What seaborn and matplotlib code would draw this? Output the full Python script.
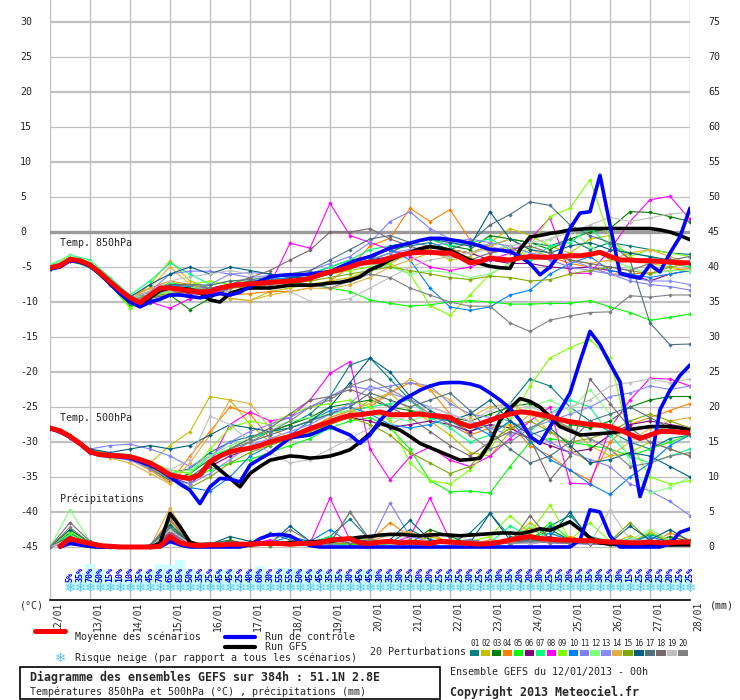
import numpy as np
import matplotlib
matplotlib.use("Agg")
import matplotlib.pyplot as plt
from matplotlib.lines import Line2D
from matplotlib.patches import Rectangle
import seaborn as sns

# time axes (hours from 12/01 00h)
hours_6h = np.arange(0, 385, 6)
hours_12h = np.arange(0, 385, 12)
snow_hours = np.arange(12, 385, 6)
day_labels = ["%02d/01" % d for d in range(12, 29)]

# ensemble mean / control / GFS run, 6-hourly
mean_850 = [-5.1, -4.8, -3.9, -4.1, -4.7, -5.8, -7.1, -8.3, -9.4, -10.1,
            -9.0, -8.0, -8.0, -8.2, -8.4, -8.6, -8.5, -8.0, -7.7, -7.5,
            -7.4, -7.3, -7.2, -7.1, -7.0, -6.9, -6.6, -6.1, -5.7, -5.4,
            -5.0, -4.5, -4.3, -4.2, -3.7, -3.3, -3.0, -2.9, -2.9, -3.0,
            -3.0, -3.6, -4.4, -4.2, -3.7, -3.9, -4.0, -3.7, -3.5, -3.6,
            -3.6, -3.5, -3.4, -3.4, -3.2, -2.9, -3.5, -4.0, -4.0, -4.1,
            -4.1, -4.2, -4.3, -4.4, -4.4]
control_850 = [-5.3, -5.0, -4.1, -4.3, -4.9, -6.0, -7.4, -8.8, -10.0, -10.7,
               -10.0, -9.6, -9.0, -9.0, -9.2, -9.4, -9.1, -8.8, -9.0, -8.6,
               -7.8, -7.0, -6.4, -6.2, -6.1, -6.1, -6.0, -5.8, -5.7, -5.0,
               -4.4, -3.9, -3.5, -2.9, -2.3, -1.9, -1.6, -1.2, -0.9, -0.9,
               -1.1, -1.3, -1.6, -2.0, -2.5, -2.6, -2.8, -3.5, -4.5, -6.1,
               -5.0, -3.1, 0.5, 2.7, 2.9, 8.1, 1.0, -5.9, -6.3, -6.6,
               -4.7, -5.7, -3.0, -0.7, 3.4]
gfs_850 = [-5.2, -4.9, -4.0, -4.2, -4.8, -6.0, -7.3, -8.6, -9.8, -10.3,
           -9.4, -8.4, -8.0, -8.1, -8.2, -8.7, -9.7, -10.0, -8.8, -8.3,
           -8.0, -8.0, -8.0, -7.8, -7.6, -7.6, -7.6, -7.5, -7.3, -7.2,
           -6.9, -6.4, -5.4, -4.8, -4.0, -3.4, -2.9, -2.4, -2.1, -2.3,
           -2.6, -3.3, -4.0, -4.5, -4.9, -5.1, -5.2, -2.5, -0.7, -0.5,
           -0.2, 0.0, 0.3, 0.4, 0.5, 0.5, 0.5, 0.5, 0.5, 0.5,
           0.5, 0.3, 0.0, -0.5, -1.1]
mean_500 = [-28.0, -28.4, -29.2, -30.2, -31.4, -31.8, -31.9, -32.0, -32.1, -32.5,
            -33.0, -33.8, -34.7, -35.0, -35.2, -34.7, -32.8, -32.0, -31.4, -31.1,
            -30.9, -30.5, -30.0, -29.6, -29.2, -28.7, -28.1, -27.6, -27.1, -26.6,
            -26.2, -26.1, -25.9, -25.7, -26.1, -26.1, -26.1, -26.0, -26.2, -26.3,
            -26.5, -27.3, -27.8, -27.4, -26.9, -26.4, -26.0, -25.7, -25.8, -26.1,
            -26.4, -26.8, -27.1, -27.3, -27.5, -27.6, -27.8, -28.3, -28.9, -29.5,
            -29.0, -28.5, -28.5, -28.6, -28.7]
control_500 = [-28.1, -28.5, -29.3, -30.3, -31.5, -31.9, -32.0, -32.1, -32.3, -32.8,
               -33.3, -34.0, -35.0, -36.0, -36.9, -38.8, -36.4, -35.2, -35.3, -35.7,
               -33.3, -32.4, -31.6, -30.5, -29.4, -29.2, -29.0, -28.4, -27.8, -28.4,
               -29.0, -30.2, -29.0, -26.9, -25.5, -24.2, -23.4, -22.6, -22.0, -21.6,
               -21.5, -21.5, -21.7, -22.1, -23.0, -24.0, -25.2, -26.9, -29.2, -30.2,
               -27.8, -25.5, -23.0, -18.5, -14.2, -16.1, -18.8, -21.4, -29.7, -37.8,
               -33.5, -25.4, -22.6, -20.5, -19.0]
gfs_500 = [-28.0, -28.4, -29.2, -30.2, -31.4, -31.8, -31.9, -32.0, -32.1, -32.5,
           -33.0, -33.8, -34.7, -35.0, -35.2, -34.7, -32.8, -34.0, -35.2, -36.4,
           -34.5, -33.5, -32.6, -32.3, -32.0, -32.1, -32.3, -32.2, -32.0, -31.6,
           -31.1, -30.0, -28.8, -27.3, -27.8, -28.3, -29.2, -30.2, -30.8, -31.4,
           -32.0, -32.6, -32.5, -32.3, -30.2, -26.9, -25.2, -23.8, -24.2, -25.0,
           -26.4, -27.8, -28.4, -29.0, -28.9, -28.8, -28.7, -28.5, -28.2, -28.0,
           -27.8, -27.8, -27.8, -28.0, -28.3]
mean_pcp = [0, 0.1, 1.2, 0.8, 0.5, 0.2, 0.1, 0, 0, 0,
            0, 0.1, 1.5, 0.6, 0.3, 0.2, 0.3, 0.3, 0.4, 0.4,
            0.4, 0.5, 0.5, 0.5, 0.4, 0.5, 0.5, 0.6, 1.0, 1.1,
            1.2, 0.6, 0.5, 0.7, 0.8, 0.6, 0.7, 0.6, 0.5, 0.8,
            0.7, 0.6, 0.5, 0.4, 0.5, 0.7, 1.0, 1.3, 1.5, 1.2,
            1.1, 1.0, 1.0, 0.9, 0.9, 0.8, 0.7, 0.7, 0.6, 0.6,
            0.7, 0.6, 0.6, 0.7, 0.7]
control_pcp = [0, 0, 0.5, 0.3, 0.1, 0, 0, 0, 0, 0,
               0, 0, 0.8, 0.3, 0, 0, 0, 0, 0, 0,
               0.3, 1.2, 1.7, 1.8, 1.6, 0.8, 0.2, 0, 0, 0,
               0, 0, 0, 0, 0, 0, 0, 0, 0, 0,
               0, 0, 0, 0, 0, 0, 0, 0, 0, 0,
               0, 0, 0, 1.0, 5.3, 5.0, 1.6, 0, 0, 0,
               0, 0, 0.5, 2.1, 2.6]
gfs_pcp = [0, 0, 0.8, 0.4, 0.1, 0, 0, 0, 0, 0,
           0, 0.5, 4.8, 2.9, 0.7, 0.2, 0.1, 0.1, 0.2, 0.3,
           0.3, 0.4, 0.5, 0.5, 0.6, 0.6, 0.7, 0.8, 0.8, 1.0,
           1.2, 1.4, 1.5, 1.7, 1.8, 1.8, 1.7, 1.6, 1.7, 1.8,
           1.7, 1.6, 1.7, 1.8, 1.9, 2.0, 2.0, 1.9, 2.2, 2.6,
           2.4, 3.0, 3.6, 2.5, 1.3, 0.6, 0.4, 0.3, 0.3, 0.3,
           0.3, 0.3, 0.3, 0.3, 0.3]

# snow risk (% of scenarios), 6-hourly from +12h
snow_pct = [5, 35, 70, 50, 15, 10, 10, 35, 45, 70, 65, 85, 50, 35, 25, 45, 45, 25, 40, 60,
            30, 55, 55, 50, 45, 45, 35, 35, 30, 45, 45, 30, 35, 30, 25, 20, 20, 25, 35, 25,
            30, 25, 35, 30, 35, 20, 20, 30, 25, 35, 20, 35, 35, 30, 25, 30, 15, 25, 20, 25,
            20, 25, 25]

# 20 perturbations, 12-hourly: T850, T500, precipitation
m01_t850 = [-5.3, -3.8, -4.5, -7.0, -9.6, -8.5, -7.5, -8.0, -8.3, -7.6, -7.0, -6.8, -6.6, -6.0, -5.0, -4.0, -3.5,
            -2.5, -2.0, -1.5, -2.5, -3.0, -2.0, -1.0, -1.5, -2.0, -1.0, -2.5, -1.5, -2.0, -2.5, -3.0, -3.2]
m02_t850 = [-5.0, -4.0, -4.6, -7.2, -9.8, -7.5, -4.1, -7.0, -8.0, -9.5, -9.8, -8.5, -8.0, -7.5, -7.0, -6.5, -5.5,
            -4.5, -3.0, -2.5, -4.0, -3.5, -1.5, 0.5, -0.5, -2.0, -3.0, -1.0, -0.5, -4.0, -4.5, -5.0, -5.6]
m03_t850 = [-5.2, -4.1, -4.9, -7.4, -10.5, -10.2, -9.0, -11.1, -9.5, -8.0, -7.5, -7.2, -7.0, -6.8, -6.0, -5.0, -4.0,
            -3.0, -1.5, -1.0, -2.0, -2.5, -0.5, -1.0, -1.5, -2.5, -1.0, 0.0, 0.5, 2.9, 2.8, 2.2, 1.5]
m04_t850 = [-5.1, -3.7, -4.4, -6.9, -9.2, -8.0, -7.0, -7.5, -8.5, -9.0, -8.8, -8.5, -8.5, -8.0, -7.0, -5.0, -2.0,
            -0.9, 3.4, 1.5, 3.2, -1.1, -3.0, -2.0, -4.0, -3.5, -4.5, -5.0, -6.0, -6.0, -5.8, -5.5, -5.2]
m05_t850 = [-5.4, -4.2, -5.0, -7.6, -10.8, -8.8, -7.2, -7.8, -8.6, -7.5, -7.3, -7.0, -7.2, -7.5, -8.0, -8.5, -9.7,
            -10.2, -10.6, -10.4, -10.0, -9.8, -10.0, -10.3, -10.3, -10.2, -10.2, -9.8, -10.7, -11.5, -12.6, -12.2, -11.7]
m06_t850 = [-5.0, -3.9, -4.6, -7.0, -9.3, -9.0, -8.5, -8.8, -9.0, -8.0, -7.5, -7.2, -6.8, -6.5, -5.5, -4.8, -4.0,
            -3.5, -3.2, -3.0, -2.5, -3.0, -4.0, -4.5, -4.5, -5.0, -5.2, -5.0, -5.5, -6.0, -7.0, -6.0, -5.5]
m07_t850 = [-4.8, -3.3, -4.0, -6.5, -9.0, -7.0, -4.4, -6.0, -7.5, -7.0, -6.8, -6.5, -6.3, -6.0, -5.0, -4.0, -2.5,
            -2.0, -1.5, -1.0, -2.0, -1.5, -1.0, -2.5, -4.0, -2.0, -1.5, 0.5, -2.0, -3.0, -3.5, -4.5, -5.0]
m08_t850 = [-5.3, -4.0, -4.8, -7.3, -9.8, -10.0, -10.9, -9.5, -9.0, -8.0, -7.8, -7.5, -1.6, -2.3, 4.1, -0.5, -1.5,
            -2.5, -3.5, -5.0, -5.5, -5.0, -4.0, -3.0, -1.0, 2.0, -5.9, -5.9, -2.5, 1.5, 4.6, 5.1, 1.8]
m09_t850 = [-4.9, -3.6, -4.3, -6.8, -10.9, -9.5, -8.5, -7.5, -7.0, -7.5, -7.2, -6.9, -6.7, -6.5, -6.0, -5.5, -5.0,
            -4.5, -6.0, -10.5, -11.9, -9.0, -6.0, -4.5, -2.0, 2.2, 3.4, 7.5, -1.0, -3.5, -2.5, -3.0, -3.5]
m10_t850 = [-5.2, -4.0, -4.7, -7.2, -9.5, -8.5, -7.5, -7.8, -8.0, -7.6, -7.2, -6.8, -6.5, -6.0, -5.5, -4.5, -3.5,
            -2.5, -4.0, -8.0, -10.7, -11.2, -10.7, -9.0, -8.3, -6.0, -4.5, -3.5, -5.5, -6.0, -6.5, -6.0, -5.5]
m11_t850 = [-5.1, -3.8, -4.5, -7.0, -9.6, -8.5, -6.0, -5.6, -5.6, -6.0, -6.5, -6.2, -6.0, -5.5, -4.5, -3.5, -1.5,
            1.5, 2.9, 0.5, -1.0, -1.5, -2.0, -3.0, -3.5, -4.0, -5.0, -5.5, -6.0, -7.0, -7.5, -7.8, -8.3]
m12_t850 = [-4.6, -3.4, -4.2, -6.8, -9.4, -9.0, -8.5, -8.0, -7.5, -7.0, -7.2, -7.0, -6.8, -6.0, -5.5, -5.0, -4.5,
            -5.0, -6.0, -5.5, -5.8, -6.5, -6.0, -4.5, -2.5, -1.0, 0.5, -2.0, -4.0, -5.0, -6.0, -5.5, -5.5]
m13_t850 = [-5.3, -4.1, -4.9, -7.5, -10.0, -9.5, -9.0, -8.5, -7.5, -6.0, -5.8, -6.0, -6.5, -6.5, -6.0, -5.0, -4.0,
            -3.0, -2.5, -2.0, -1.5, -1.0, -1.5, -2.0, -3.0, -3.5, -4.0, -5.0, -6.0, -6.5, -7.0, -7.0, -7.5]
m14_t850 = [-5.0, -3.8, -4.6, -7.2, -9.6, -8.0, -5.0, -7.5, -8.5, -9.5, -9.8, -9.0, -8.5, -8.0, -8.1, -7.5, -6.5,
            -5.0, -4.0, -3.0, -2.5, -3.0, -2.0, -1.0, -2.5, -3.5, -4.0, -4.5, -4.0, -3.0, -2.5, -3.5, -4.5]
m15_t850 = [-5.2, -3.9, -4.7, -7.3, -9.7, -9.2, -8.8, -8.6, -8.4, -8.0, -7.8, -7.5, -7.3, -7.0, -6.5, -6.0, -5.5,
            -5.0, -5.5, -6.0, -6.5, -6.8, -6.3, -6.5, -7.0, -6.8, -6.0, -5.5, -5.0, -5.5, -6.0, -5.0, -4.5]
m16_t850 = [-5.1, -3.9, -4.6, -7.0, -9.3, -7.5, -6.0, -5.0, -6.0, -5.0, -5.5, -6.0, -6.5, -6.5, -6.0, -5.0, -4.0,
            -2.0, -1.5, -1.0, -1.5, -2.0, 2.9, -1.0, -2.5, -3.0, -2.0, -1.5, -2.5, -3.0, -3.5, -4.0, -4.5]
m17_t850 = [-5.0, -3.8, -4.5, -7.1, -9.5, -8.5, -7.5, -7.5, -7.6, -7.0, -6.8, -6.5, -6.0, -5.5, -4.0, -2.5, -1.0,
            -0.5, -1.5, -2.0, -2.5, -1.5, 1.0, 2.5, 4.3, 3.8, 1.0, -0.5, -1.5, -4.0, -13.0, -16.1, -16.0]
m18_t850 = [-5.3, -4.1, -4.8, -7.4, -9.9, -9.4, -9.0, -8.5, -8.0, -7.5, -6.5, -5.5, -4.0, -2.6, 0.0, 0.0, 0.5,
            -1.0, -2.0, -3.0, -3.5, -4.0, -3.0, -2.5, -2.0, -3.0, -4.0, -4.5, -5.0, -5.5, -4.5, -4.0, -3.5]
m19_t850 = [-4.9, -3.7, -4.5, -7.0, -9.5, -8.5, -7.0, -6.4, -6.0, -5.5, -6.0, -7.0, -8.5, -9.9, -10.0, -9.5, -8.0,
            -6.5, -5.0, -4.0, -3.5, -3.0, -2.5, -2.0, -1.5, -1.0, 0.0, 1.0, 2.1, 1.5, 2.0, 2.6, 2.8]
m20_t850 = [-5.2, -4.0, -4.8, -7.3, -9.7, -9.0, -8.0, -7.5, -8.0, -8.5, -8.0, -7.5, -7.0, -7.5, -8.0, -7.0, -6.0,
            -6.5, -8.0, -9.0, -10.0, -10.6, -10.6, -13.0, -14.2, -12.6, -12.0, -11.5, -11.4, -9.1, -9.3, -9.0, -9.0]

m01_t500 = [-28.1, -29.3, -31.2, -31.6, -31.8, -33.5, -34.5, -33.8, -31.5, -30.0, -29.2, -28.5, -27.5, -26.0, -23.5, -19.0, -18.0,
            -21.0, -24.0, -26.5, -27.0, -28.5, -27.0, -24.5, -21.0, -22.0, -25.0, -27.0, -28.5, -30.0, -31.0, -29.5, -29.0]
m02_t500 = [-28.0, -29.2, -31.5, -32.0, -32.3, -33.0, -30.5, -28.5, -23.5, -24.0, -27.5, -30.0, -29.5, -28.8, -27.5, -26.0, -24.0,
            -23.0, -25.5, -27.0, -29.0, -31.5, -32.0, -28.5, -26.0, -27.0, -28.0, -30.5, -32.0, -31.5, -30.0, -31.0, -32.0]
m03_t500 = [-27.9, -29.1, -31.3, -31.8, -32.2, -33.8, -35.5, -34.5, -32.5, -31.0, -29.5, -28.5, -27.5, -26.5, -25.0, -24.5, -24.0,
            -25.0, -25.5, -26.0, -26.5, -27.0, -26.0, -25.0, -24.5, -26.0, -27.5, -28.0, -27.0, -25.0, -24.0, -23.5, -23.5]
m04_t500 = [-28.2, -29.4, -31.6, -32.2, -32.5, -34.0, -35.8, -32.0, -28.5, -25.0, -26.0, -29.5, -29.0, -28.0, -26.5, -25.5, -25.0,
            -23.0, -21.5, -22.5, -26.0, -29.0, -28.0, -27.5, -30.5, -32.0, -34.0, -35.5, -30.0, -27.5, -26.5, -25.5, -24.5]
m05_t500 = [-28.1, -29.3, -31.5, -32.0, -32.2, -33.2, -34.5, -35.5, -34.0, -33.0, -32.5, -31.5, -30.5, -29.5, -28.0, -27.0, -26.5,
            -28.0, -31.0, -35.5, -37.1, -37.0, -37.3, -33.5, -30.0, -29.5, -30.0, -30.5, -31.0, -32.0, -31.0, -30.0, -29.0]
m06_t500 = [-28.0, -29.2, -31.3, -31.8, -32.0, -33.5, -35.0, -36.0, -33.5, -32.0, -31.0, -30.0, -29.0, -28.0, -27.0, -26.5, -27.0,
            -28.0, -27.5, -27.0, -27.5, -28.5, -27.5, -28.0, -29.5, -30.5, -31.5, -31.0, -29.0, -27.5, -27.0, -27.5, -28.0]
m07_t500 = [-28.0, -29.1, -31.2, -31.7, -32.0, -33.0, -34.0, -34.5, -32.0, -31.0, -29.5, -28.5, -28.0, -27.0, -26.0, -25.5, -25.0,
            -24.5, -24.0, -26.5, -28.0, -30.0, -29.0, -27.0, -28.5, -26.0, -24.0, -25.0, -29.0, -32.0, -33.0, -32.0, -31.0]
m08_t500 = [-28.2, -29.4, -31.5, -32.1, -32.4, -33.5, -35.0, -35.5, -33.0, -27.5, -25.7, -27.0, -26.5, -24.0, -20.2, -18.5, -31.0,
            -35.4, -32.1, -30.7, -32.6, -33.5, -32.0, -29.5, -27.0, -25.0, -35.9, -36.0, -28.0, -24.0, -20.9, -21.0, -22.0]
m09_t500 = [-27.9, -29.0, -31.2, -31.7, -31.9, -32.8, -34.0, -34.5, -31.0, -28.0, -27.0, -27.5, -26.0, -25.0, -24.5, -24.0, -25.0,
            -27.0, -33.0, -35.5, -36.0, -34.0, -31.0, -27.0, -22.0, -18.0, -16.5, -15.4, -18.0, -30.0, -35.0, -36.0, -35.5]
m10_t500 = [-28.1, -29.3, -31.4, -31.9, -32.1, -33.5, -35.0, -36.5, -37.0, -35.0, -32.0, -30.5, -29.0, -27.0, -25.5, -25.0, -26.0,
            -27.5, -28.0, -27.5, -26.5, -27.5, -29.0, -27.0, -30.0, -32.5, -34.0, -36.0, -37.5, -35.0, -33.0, -30.5, -29.0]
m11_t500 = [-28.0, -29.2, -31.0, -30.5, -30.3, -31.0, -32.0, -33.5, -32.0, -30.0, -28.5, -27.5, -26.5, -25.0, -23.5, -22.0, -22.5,
            -22.0, -21.5, -22.0, -24.5, -26.0, -26.5, -27.0, -28.5, -30.0, -31.5, -32.5, -33.5, -36.0, -37.0, -38.5, -40.5]
m12_t500 = [-28.0, -29.1, -31.3, -31.8, -32.0, -33.0, -34.5, -34.0, -32.0, -30.5, -29.5, -28.0, -27.0, -26.5, -26.0, -25.5, -26.0,
            -26.5, -27.0, -26.0, -26.5, -27.5, -28.0, -26.5, -25.0, -24.0, -25.5, -22.5, -26.0, -33.0, -37.3, -36.5, -35.0]
m13_t500 = [-28.2, -29.4, -31.6, -32.2, -32.6, -33.8, -35.3, -36.0, -34.5, -32.5, -30.5, -29.5, -28.5, -27.5, -26.0, -24.5, -22.0,
            -23.0, -24.0, -25.0, -26.0, -27.0, -28.0, -29.0, -28.0, -27.0, -26.0, -25.0, -23.5, -23.0, -22.0, -22.5, -22.0]
m14_t500 = [-28.0, -29.3, -31.5, -32.3, -33.0, -34.5, -36.0, -33.0, -29.0, -24.0, -24.5, -28.0, -29.5, -28.5, -27.0, -25.5, -24.5,
            -23.0, -21.0, -22.5, -24.0, -26.5, -25.0, -24.5, -26.0, -28.5, -31.0, -33.0, -32.0, -30.0, -28.0, -27.0, -26.5]
m15_t500 = [-28.1, -29.2, -31.4, -31.9, -32.2, -33.6, -35.2, -36.5, -35.0, -33.0, -31.5, -30.5, -29.5, -28.5, -27.5, -26.5, -27.5,
            -29.0, -31.5, -33.0, -34.5, -33.5, -30.0, -28.0, -27.0, -28.5, -30.0, -29.5, -28.5, -27.0, -26.0, -27.0, -28.0]
m16_t500 = [-28.0, -29.0, -31.0, -31.5, -31.0, -30.5, -31.0, -30.5, -29.0, -27.5, -28.0, -28.5, -28.0, -27.0, -25.0, -21.5, -18.0,
            -20.0, -23.5, -25.5, -27.0, -26.0, -24.0, -27.0, -29.0, -28.0, -30.5, -33.0, -32.5, -31.5, -32.0, -33.5, -35.0]
m17_t500 = [-28.1, -29.3, -31.5, -32.0, -32.3, -33.5, -34.5, -35.0, -33.0, -31.5, -30.0, -29.0, -28.0, -27.0, -26.0, -25.0, -23.0,
            -24.0, -25.0, -24.0, -23.0, -25.5, -28.5, -31.0, -33.0, -32.0, -30.0, -27.0, -26.0, -25.0, -26.5, -28.0, -29.0]
m18_t500 = [-28.0, -29.2, -31.4, -31.9, -32.1, -33.2, -34.8, -35.3, -33.5, -31.0, -29.5, -28.0, -26.0, -24.0, -23.5, -22.5, -23.5,
            -25.0, -26.5, -28.5, -30.5, -32.0, -30.0, -28.5, -29.5, -35.4, -32.0, -21.0, -24.5, -28.0, -30.0, -31.0, -32.0]
m19_t500 = [-27.9, -29.1, -31.3, -31.8, -32.0, -33.0, -34.0, -32.5, -26.3, -27.5, -30.0, -31.5, -33.0, -32.5, -31.0, -29.5, -28.0,
            -27.5, -26.0, -25.0, -26.0, -27.0, -25.5, -24.5, -25.0, -26.0, -25.0, -24.0, -22.0, -21.5, -21.0, -21.5, -21.0]
m20_t500 = [-28.1, -29.3, -31.5, -32.0, -32.2, -33.3, -34.8, -35.5, -33.0, -31.0, -30.0, -28.5, -27.0, -25.0, -24.0, -22.0, -21.0,
            -22.5, -24.0, -26.0, -27.5, -29.0, -31.0, -30.0, -28.0, -26.5, -28.0, -29.5, -31.0, -33.5, -33.0, -32.0, -31.5]

m01_pcp = [0, 0.8, 0.3, 0.1, 0, 0, 0.9, 0.3, 0.2, 0.4, 0.5, 2.0, 1.0, 0.5, 1.5, 4.0, 1.0,
           0.5, 2.5, 1.0, 0.5, 2.0, 4.8, 1.5, 1.0, 3.0, 4.5, 1.5, 0.8, 0.5, 1.8, 0.8, 0.6]
m02_pcp = [0, 1.5, 0.4, 0, 0, 0, 3.5, 0.5, 0.2, 0.3, 0.6, 0.4, 0.8, 0.5, 0.3, 0.6, 1.2,
           0.6, 0.4, 1.5, 0.8, 0.3, 0.5, 1.0, 3.5, 1.2, 0.5, 0.8, 0.4, 1.6, 0.5, 0.4, 0.3]
m03_pcp = [0, 2.0, 0.5, 0.1, 0, 0.1, 1.5, 0.3, 0.5, 1.0, 0.3, 0.2, 0.5, 0.8, 0.4, 0.5, 0.3,
           1.0, 0.5, 2.5, 1.5, 0.5, 0.3, 0.6, 1.0, 2.5, 1.0, 0.5, 0.3, 0.8, 0.5, 1.5, 0.8]
m04_pcp = [0, 1.2, 0.3, 0, 0, 0, 4.0, 0.8, 0.3, 0.4, 0.2, 0.3, 0.5, 0.6, 0.8, 1.0, 0.8,
           3.5, 1.5, 2.0, 0.5, 0.4, 1.0, 0.8, 2.8, 1.0, 1.5, 0.8, 0.6, 1.0, 0.5, 2.0, 1.0]
m05_pcp = [0, 2.5, 0.6, 0.1, 0, 0, 2.0, 0.4, 0.2, 0.3, 0.5, 0.4, 0.6, 0.5, 0.4, 0.3, 0.5,
           0.4, 0.6, 0.8, 0.5, 0.4, 0.6, 0.5, 0.8, 3.5, 1.0, 0.5, 0.8, 0.6, 2.0, 0.8, 0.5]
m06_pcp = [0, 1.0, 0.2, 0, 0, 0.2, 1.8, 0.4, 0.3, 0.5, 0.6, 0.8, 0.5, 0.4, 0.6, 0.8, 0.5,
           0.6, 0.5, 0.4, 0.8, 0.5, 0.4, 0.6, 0.5, 0.8, 0.6, 0.4, 0.5, 0.8, 0.6, 0.5, 0.4]
m07_pcp = [0, 1.8, 0.4, 0, 0, 0.1, 2.5, 0.5, 0.2, 0.6, 0.4, 0.5, 0.8, 0.6, 1.5, 0.8, 0.5,
           0.4, 1.0, 0.6, 0.8, 0.5, 0.6, 3.0, 1.5, 2.0, 0.8, 0.6, 0.4, 1.2, 0.8, 0.5, 0.4]
m08_pcp = [0, 1.0, 0.3, 0, 0, 0, 2.2, 0.5, 0.3, 0.4, 0.5, 1.0, 0.6, 0.5, 7.0, 1.0, 0.8,
           0.5, 1.5, 7.0, 1.0, 0.5, 0.8, 0.6, 1.0, 1.5, 0.8, 0.5, 0.6, 0.8, 1.0, 0.6, 0.5]
m09_pcp = [0, 2.2, 0.5, 0.1, 0, 0, 3.0, 0.6, 0.2, 0.3, 0.6, 0.4, 0.5, 0.8, 0.5, 1.0, 0.6,
           0.5, 0.8, 0.5, 1.0, 0.8, 1.5, 4.5, 2.0, 6.0, 1.0, 3.5, 0.8, 0.6, 0.5, 0.8, 0.6]
m10_pcp = [0, 1.5, 0.4, 0, 0, 0, 2.8, 0.6, 0.3, 0.5, 0.4, 0.6, 1.5, 0.8, 2.5, 0.6, 0.5,
           0.8, 0.6, 0.5, 0.8, 1.0, 0.6, 0.5, 0.8, 2.0, 1.0, 0.6, 0.5, 0.8, 1.5, 0.6, 0.5]
m11_pcp = [0, 1.0, 0.3, 0, 0, 0, 2.0, 0.5, 0.2, 0.4, 0.3, 0.5, 0.4, 0.6, 0.5, 0.8, 0.5,
           6.3, 1.5, 0.8, 0.5, 0.6, 0.8, 0.5, 0.6, 0.8, 0.5, 0.6, 1.0, 0.8, 0.6, 0.5, 0.4]
m12_pcp = [0, 5.3, 0.8, 0.1, 0, 0, 1.5, 0.5, 0.3, 0.2, 0.4, 0.5, 0.3, 0.6, 0.8, 1.5, 0.6,
           0.5, 0.8, 0.6, 0.5, 0.8, 0.6, 1.0, 3.0, 1.0, 0.8, 0.6, 0.5, 1.0, 2.5, 1.0, 0.6]
m13_pcp = [0, 0.8, 0.2, 0, 0, 0, 1.8, 0.4, 0.2, 0.3, 0.5, 0.4, 0.6, 0.5, 0.4, 0.5, 0.6,
           0.8, 0.5, 0.6, 0.5, 0.4, 0.6, 0.5, 0.8, 0.6, 0.5, 0.4, 0.6, 0.5, 0.8, 0.6, 0.5]
m14_pcp = [0, 1.3, 0.3, 0, 0, 0, 5.6, 0.8, 0.3, 0.5, 0.6, 0.4, 0.5, 0.8, 0.6, 0.5, 0.8,
           1.8, 2.2, 0.6, 0.5, 0.8, 0.6, 0.5, 0.8, 1.0, 0.8, 0.6, 0.5, 0.6, 2.2, 0.8, 0.6]
m15_pcp = [0, 1.5, 0.4, 0, 0, 0, 2.5, 0.5, 0.4, 0.6, 0.5, 0.6, 0.5, 0.4, 0.6, 0.5, 0.8,
           0.6, 0.5, 0.8, 1.0, 0.6, 0.5, 0.8, 1.0, 0.8, 0.6, 0.5, 0.8, 3.5, 0.8, 0.6, 0.5]
m16_pcp = [0, 2.5, 0.6, 0.1, 0, 0.3, 3.2, 0.6, 0.4, 1.5, 0.8, 0.5, 3.0, 0.8, 0.6, 1.2, 0.8,
           1.0, 3.8, 1.0, 0.8, 0.6, 4.8, 1.0, 0.8, 1.5, 5.0, 1.0, 0.6, 3.0, 1.0, 2.5, 0.8]
m17_pcp = [0, 1.5, 0.4, 0, 0, 0.2, 2.8, 0.5, 0.6, 0.8, 0.5, 0.6, 0.8, 0.6, 0.8, 0.6, 0.5,
           0.8, 0.6, 0.5, 0.8, 0.6, 0.5, 0.8, 1.0, 0.8, 0.6, 0.5, 0.8, 0.6, 0.5, 1.0, 0.6]
m18_pcp = [0, 3.5, 0.8, 0.1, 0, 0, 2.0, 0.5, 0.3, 0.4, 0.6, 0.5, 0.8, 0.6, 0.5, 5.0, 1.0,
           0.6, 0.8, 0.5, 0.6, 0.8, 0.6, 0.5, 4.5, 1.0, 0.8, 0.6, 0.8, 0.6, 0.5, 0.8, 0.6]
m19_pcp = [0, 1.2, 0.3, 0, 0, 0, 2.4, 0.5, 0.2, 0.3, 0.5, 0.4, 0.6, 0.5, 0.6, 0.8, 0.6,
           0.5, 0.8, 0.6, 0.5, 0.6, 0.8, 0.6, 0.5, 0.8, 1.0, 0.6, 5.3, 1.0, 0.8, 0.6, 0.5]
m20_pcp = [0, 2.8, 0.6, 0.1, 0, 0, 3.8, 0.6, 0.3, 0.5, 0.4, 0.6, 2.5, 0.8, 0.6, 5.0, 1.0,
           0.8, 0.6, 0.5, 0.8, 1.0, 0.6, 0.5, 0.8, 0.6, 0.5, 0.8, 1.0, 0.6, 0.8, 0.5, 0.6]

member_colors = ["#008080", "#c0c000", "#008000", "#ff8000", "#00ff00", "#800080", "#00ff80",
                 "#ff00ff", "#80ff00", "#0080ff", "#8080ff", "#80ff80", "#8888ff", "#e0b040",
                 "#80a800", "#006080", "#507080", "#786870", "#c0c0c0", "#808080"]

t850_members = [m01_t850, m02_t850, m03_t850, m04_t850, m05_t850, m06_t850, m07_t850, m08_t850, m09_t850, m10_t850,
                m11_t850, m12_t850, m13_t850, m14_t850, m15_t850, m16_t850, m17_t850, m18_t850, m19_t850, m20_t850]
t500_members = [m01_t500, m02_t500, m03_t500, m04_t500, m05_t500, m06_t500, m07_t500, m08_t500, m09_t500, m10_t500,
                m11_t500, m12_t500, m13_t500, m14_t500, m15_t500, m16_t500, m17_t500, m18_t500, m19_t500, m20_t500]
pcp_members = [m01_pcp, m02_pcp, m03_pcp, m04_pcp, m05_pcp, m06_pcp, m07_pcp, m08_pcp, m09_pcp, m10_pcp,
               m11_pcp, m12_pcp, m13_pcp, m14_pcp, m15_pcp, m16_pcp, m17_pcp, m18_pcp, m19_pcp, m20_pcp]

for arr in t850_members + t500_members + pcp_members:
    assert len(arr) == len(hours_12h), len(arr)
for arr in [mean_850, control_850, gfs_850, mean_500, control_500, gfs_500, mean_pcp, control_pcp, gfs_pcp]:
    assert len(arr) == len(hours_6h), len(arr)
assert len(snow_pct) == len(snow_hours)

PCP_ZERO = -45  # precipitation is drawn on the temperature scale, 0 mm at -45

sns.set_style("white")
plt.rcParams["font.family"] = ["DejaVu Sans Mono", "DejaVu Sans"]

W, H = 740, 700
fig = plt.figure(figsize=(W / 100, H / 100), dpi=100)


def fx(px):
    return px / W


def fy(py):
    return 1 - py / H


def v(py):
    # pixel row of the reference -> temperature value (7 px per degree, 0 at row 232)
    return (232 - py) / 7


ax = fig.add_axes([fx(50), fy(600), 640 / W, 600 / H])
ax.set_xlim(0, 384)
ax.set_ylim(v(600), v(0))
ax.set_xticks([])
ax.set_yticks([])
for s in ["top", "right", "left"]:
    ax.spines[s].set_visible(False)
ax.spines["bottom"].set_color("black")
ax.spines["bottom"].set_linewidth(1.2)

# grid
for d in range(17):
    ax.axvline(d * 24, color="#c0c0c0", lw=1.0, zorder=0)
for val in range(-45, 31, 5):
    if val == 0:
        continue
    ax.axhline(val, color="#c0c0c0", lw=1.6 if val % 10 == 0 else 0.9, zorder=0)
ax.axhline(0, color="#9a9a9a", lw=2.4, zorder=0)

# snow risk bars + flakes + labels
bar_base = v(590)
bar_h = [(8 + 0.26 * p) / 7 for p in snow_pct]
ax.bar(snow_hours, bar_h, bottom=bar_base, width=6, color="#ccffff", linewidth=0, zorder=1)
for h, p in zip(snow_hours, snow_pct):
    ax.text(h, v(588), "\u2744", ha="center", va="center", fontsize=9.5, color="#5ec4ee",
            family=["DejaVu Sans"], zorder=2)
    ax.text(h, v(582), "%d%%" % p, rotation=90, ha="center", va="bottom", fontsize=6,
            color="#0000ff", fontweight="bold", zorder=3)

# perturbations
for color, t850, t500, pcp in zip(member_colors, t850_members, t500_members, pcp_members):
    for yv in (t850, t500, np.array(pcp) + PCP_ZERO):
        sns.lineplot(x=hours_12h, y=yv, color=color, lw=0.8, marker="D", markersize=2.2,
                     markeredgewidth=0, ax=ax, legend=False, estimator=None, zorder=2)

# GFS, control, mean
for yv in (gfs_850, gfs_500, np.array(gfs_pcp[1:]) + PCP_ZERO):
    xs = hours_6h if len(yv) == len(hours_6h) else hours_6h[1:]
    sns.lineplot(x=xs, y=yv, color="black", lw=2.6, ax=ax, legend=False, estimator=None, zorder=3)
for yv in (control_850, control_500, np.array(control_pcp[1:]) + PCP_ZERO):
    xs = hours_6h if len(yv) == len(hours_6h) else hours_6h[1:]
    sns.lineplot(x=xs, y=yv, color="#0000ff", lw=2.6, ax=ax, legend=False, estimator=None, zorder=4)
for yv in (mean_850, mean_500, np.array(mean_pcp[1:]) + PCP_ZERO):
    xs = hours_6h if len(yv) == len(hours_6h) else hours_6h[1:]
    sns.lineplot(x=xs, y=yv, color="#ff0000", lw=3.6, ax=ax, legend=False, estimator=None, zorder=5)

# section labels
ax.text(6, v(243), "Temp. 850hPa", fontsize=7.2, va="center", ha="left", zorder=6)
ax.text(6, v(418), "Temp. 500hPa", fontsize=7.2, va="center", ha="left", zorder=6)
ax.text(6, v(499), "Pr\u00e9cipitations", fontsize=7.2, va="center", ha="left", zorder=6)

# y labels, left in deg C, right in mm
ytr = ax.get_yaxis_transform()
for val in range(-45, 31, 5):
    ax.text(-30 / 640, val, str(val), transform=ytr, ha="left", va="center", fontsize=7.2, clip_on=False)
    ax.text(658 / 640, val, str(val + 45), transform=ytr, ha="left", va="center", fontsize=7.2, clip_on=False)
ax.text(-30 / 640, v(606), "(\u00b0C)", transform=ytr, ha="left", va="center", fontsize=7.2, clip_on=False)
ax.text(660 / 640, v(606), "(mm)", transform=ytr, ha="left", va="center", fontsize=7.2, clip_on=False)

# date labels
for d, lab in enumerate(day_labels):
    ax.text(d * 24 + 2.0, v(602), lab, rotation=90, ha="left", va="top", fontsize=7, clip_on=False)

# legend
fig.add_artist(Line2D([fx(35), fx(65)], [fy(631), fy(631)], color="#ff0000", lw=3.6))
fig.text(fx(75), fy(637), "Moyenne des sc\u00e9narios", fontsize=7.2, va="center")
fig.add_artist(Line2D([fx(225), fx(255)], [fy(637), fy(637)], color="#0000ff", lw=3.0))
fig.text(fx(265), fy(637), "Run de contr\u00f4le", fontsize=7.2, va="center")
fig.add_artist(Line2D([fx(225), fx(255)], [fy(647), fy(647)], color="black", lw=3.0))
fig.text(fx(265), fy(647), "Run GFS", fontsize=7.2, va="center")
fig.text(fx(60), fy(658), "\u2744", fontsize=9.5, color="#5ec4ee", ha="center", va="center",
         family=["DejaVu Sans"])
fig.text(fx(75), fy(658), "Risque neige (par rapport a tous les sc\u00e9narios)", fontsize=7.2, va="center")
fig.text(fx(370), fy(652), "20 Perturbations", fontsize=7.2, va="center")
for i, c in enumerate(member_colors):
    x0 = 470 + 10.95 * i
    fig.add_artist(Rectangle((fx(x0), fy(656)), 9.5 / W, 6.5 / H, color=c, linewidth=0))
    fig.text(fx(x0 + 4.75), fy(643), "%02d" % (i + 1), fontsize=5.6, ha="center", va="center")

fig.add_artist(Rectangle((fx(20), fy(699)), 420 / W, 32 / H, fill=False, edgecolor="black", lw=1.2))
fig.text(fx(30), fy(677), "Diagramme des ensembles GEFS sur 384h : 51.1N 2.8E", fontsize=8.4,
         fontweight="bold", va="center")
fig.text(fx(30), fy(692), "Temp\u00e9ratures 850hPa et 500hPa (\u00b0C) , pr\u00e9cipitations (mm)",
         fontsize=7.2, va="center")
fig.text(fx(450), fy(672), "Ensemble GEFS du 12/01/2013 - 00h", fontsize=7.2, va="center")
fig.text(fx(450), fy(692), "Copyright 2013 Meteociel.fr", fontsize=8.4, fontweight="bold", va="center")

fig.savefig("out.png", dpi=100)
